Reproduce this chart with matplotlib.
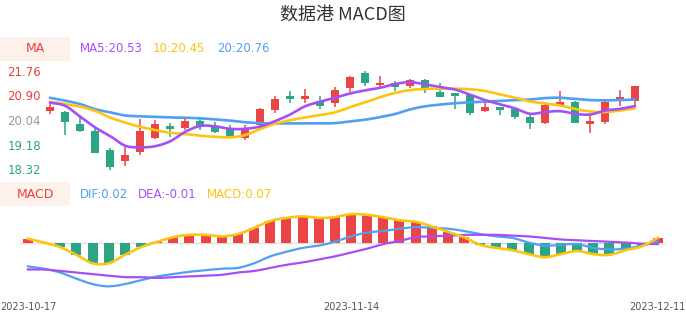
import numpy as np
import matplotlib
matplotlib.use("Agg")
import matplotlib.pyplot as plt
from matplotlib.patches import Rectangle

# Figure size in pixels
W, H = 686, 320

# Trading days shown
dates = ["2023-10-17", "2023-11-14", "2023-12-11"]
date_idx = [0, 20, 39]

# Daily candles
opens = [20.37, 20.33, 19.89, 19.65, 18.99, 18.60, 18.91, 19.42, 19.83, 19.77,
         20.02, 19.84, 19.71, 19.40, 19.86, 20.39, 20.87, 20.78, 20.71, 20.63,
         21.16, 21.68, 21.26, 21.33, 21.24, 21.44, 21.02, 20.98, 20.92, 20.37,
         20.51, 20.43, 20.16, 19.92, 20.57, 20.68, 19.89, 19.97, 20.77, 20.72]
highs = [20.65, 20.37, 20.22, 19.84, 19.05, 19.10, 20.06, 20.04, 19.92, 20.10,
         20.10, 19.98, 19.86, 19.86, 20.45, 20.88, 21.07, 21.13, 20.88, 21.19,
         21.58, 21.76, 21.58, 21.41, 21.48, 21.48, 21.33, 20.98, 20.92, 20.68,
         20.51, 20.43, 20.22, 20.68, 21.06, 20.72, 20.27, 20.78, 21.09, 21.23]
lows = [20.24, 19.51, 19.63, 18.87, 18.29, 18.43, 18.81, 19.38, 19.45, 19.69,
        19.69, 19.59, 19.43, 19.34, 19.84, 20.28, 20.63, 20.63, 20.43, 20.51,
        21.03, 21.23, 21.19, 21.06, 21.16, 21.00, 20.84, 20.43, 20.22, 20.31,
        20.22, 20.08, 19.72, 19.89, 20.57, 19.92, 19.60, 19.90, 20.54, 20.53]
closes = [20.51, 19.98, 19.66, 18.89, 18.38, 18.81, 19.65, 19.89, 19.73, 20.02,
          19.84, 19.63, 19.45, 19.71, 20.43, 20.78, 20.79, 20.88, 20.54, 21.09,
          21.55, 21.33, 21.33, 21.21, 21.44, 21.15, 20.86, 20.89, 20.30, 20.51,
          20.39, 20.16, 19.95, 20.57, 20.68, 19.95, 20.00, 20.66, 20.86, 21.23]

# Moving averages
ma5 = [20.65, 20.54, 20.16, 19.78, 19.48, 19.14, 19.08, 19.12, 19.29, 19.62,
       19.83, 19.82, 19.73, 19.73, 19.81, 20.00, 20.23, 20.52, 20.68, 20.82,
       20.97, 21.08, 21.17, 21.30, 21.37, 21.29, 21.20, 21.11, 20.93, 20.74,
       20.59, 20.45, 20.26, 20.32, 20.35, 20.26, 20.23, 20.37, 20.43, 20.53]
ma10 = [20.68, 20.60, 20.51, 20.36, 20.13, 19.95, 19.80, 19.69, 19.59, 19.55,
        19.49, 19.45, 19.43, 19.51, 19.72, 19.91, 20.03, 20.13, 20.21, 20.31,
        20.49, 20.66, 20.84, 20.99, 21.09, 21.13, 21.14, 21.14, 21.12, 21.06,
        20.94, 20.82, 20.69, 20.62, 20.55, 20.43, 20.34, 20.32, 20.37, 20.45]
ma20 = [20.82, 20.72, 20.60, 20.42, 20.31, 20.20, 20.17, 20.15, 20.13, 20.12,
        20.10, 20.06, 20.02, 19.96, 19.93, 19.92, 19.92, 19.92, 19.92, 19.93,
        19.99, 20.05, 20.14, 20.25, 20.41, 20.52, 20.58, 20.63, 20.66, 20.69,
        20.71, 20.74, 20.76, 20.81, 20.82, 20.78, 20.74, 20.73, 20.74, 20.76]

# MACD
dif = [-0.30, -0.33, -0.38, -0.46, -0.53, -0.56, -0.53, -0.48, -0.43, -0.40,
       -0.37, -0.35, -0.33, -0.32, -0.26, -0.17, -0.11, -0.06, -0.03, 0.02,
       0.09, 0.14, 0.16, 0.19, 0.21, 0.20, 0.19, 0.16, 0.12, 0.09,
       0.07, 0.01, -0.03, -0.02, -0.01, -0.06, -0.08, -0.07, -0.03, 0.02]
dea = [-0.34, -0.34, -0.36, -0.38, -0.40, -0.42, -0.44, -0.44, -0.45, -0.44,
       -0.43, -0.42, -0.41, -0.38, -0.36, -0.32, -0.28, -0.25, -0.21, -0.17,
       -0.12, -0.07, -0.01, 0.03, 0.08, 0.09, 0.10, 0.11, 0.11, 0.11,
       0.10, 0.09, 0.07, 0.05, 0.04, 0.03, 0.02, 0.01, -0.005, -0.01]
hist = [0.06, 0.01, -0.05, -0.15, -0.26, -0.26, -0.15, -0.05, 0.02, 0.08,
        0.11, 0.11, 0.09, 0.12, 0.20, 0.29, 0.33, 0.35, 0.33, 0.34,
        0.38, 0.37, 0.34, 0.30, 0.28, 0.22, 0.15, 0.08, -0.02, -0.06,
        -0.09, -0.14, -0.18, -0.14, -0.10, -0.14, -0.15, -0.09, -0.04, 0.07]

price_ticks = [18.32, 19.18, 20.04, 20.90, 21.76]

RED = "#eb4444"
GREEN = "#2ba585"
PURPLE = "#a64ff5"
YELLOW = "#fbc512"
BLUE = "#4f9ff2"
GREY = "#999999"


def fx(px):
    return px / W


def fy(py):
    return 1 - py / H


def smooth(y, n=8):
    # catmull-rom curve through the points, only for drawing
    y = np.asarray(y, float)
    x = np.arange(len(y), dtype=float)
    p = np.concatenate([[2 * y[0] - y[1]], y, [2 * y[-1] - y[-2]]])
    xs, ys = [], []
    t = np.linspace(0, 1, n, endpoint=False)
    for i in range(len(y) - 1):
        p0, p1, p2, p3 = p[i], p[i + 1], p[i + 2], p[i + 3]
        seg = 0.5 * ((2 * p1) + (-p0 + p2) * t + (2 * p0 - 5 * p1 + 4 * p2 - p3) * t ** 2
                     + (-p0 + 3 * p1 - 3 * p2 + p3) * t ** 3)
        xs.extend(x[i] + t)
        ys.extend(seg)
    xs.append(x[-1])
    ys.append(y[-1])
    return np.array(xs), np.array(ys)


plt.rcParams["font.family"] = ["DejaVu Sans", "Noto Sans CJK SC"]

fig = plt.figure(figsize=(W / 100, H / 100), dpi=100)
fig.patch.set_facecolor("white")

# title
fig.text(0.5, fy(15), "数据港 MACD图", ha="center", va="center", fontsize=13,
         color="#333333", family=["Noto Sans CJK SC", "DejaVu Sans"])

# ---- price panel ----
ax = fig.add_axes([fx(42.5), fy(180), 600 / W, 120 / H])
n = len(closes)
x = np.arange(n)
for i in range(n):
    up = closes[i] >= opens[i]
    c = RED if up else GREEN
    ax.vlines(i, lows[i], highs[i], color=c, lw=1.1, zorder=2)
    lo = min(opens[i], closes[i])
    h = max(abs(closes[i] - opens[i]), 0.04)
    ax.bar(i, h, bottom=lo, width=0.52, color=c, zorder=3, linewidth=0)

for vals, col in [(ma20, BLUE), (ma10, YELLOW), (ma5, PURPLE)]:
    sx, sy = smooth(vals)
    ax.plot(sx, sy, color=col, lw=1.9, zorder=4, solid_capstyle="round")

ax.set_xlim(-0.5, n - 0.5)
ax.set_ylim(17.934, 22.146)
ax.set_yticks(price_ticks)
ax.set_yticklabels([f"{v:.2f}" for v in price_ticks], fontsize=8.5)
for lab, v in zip(ax.get_yticklabels(), price_ticks):
    if v > 20.05:
        lab.set_color("#e8413f")
    elif v < 20.0:
        lab.set_color(GREEN)
    else:
        lab.set_color(GREY)
ax.tick_params(axis="y", length=0, pad=1)
ax.set_xticks([])
for s in ax.spines.values():
    s.set_visible(False)

# ---- MACD panel ----
ax2 = fig.add_axes([fx(19.9), fy(295), 646 / W, 90 / H])
bar_cols = [RED if v >= 0 else GREEN for v in hist]
ax2.axhline(0, color="#eadada", lw=1, zorder=1)
ax2.bar(x, hist, width=0.62, color=bar_cols, zorder=2, linewidth=0)
sx, sy = smooth(dif)
ax2.plot(sx, sy, color=BLUE, lw=1.6, zorder=3)
sx, sy = smooth(dea)
ax2.plot(sx, sy, color=PURPLE, lw=1.6, zorder=3)
sx, sy = smooth(hist)
ax2.plot(sx, sy, color=YELLOW, lw=1.9, zorder=4)
ax2.set_xlim(-0.5, n - 0.5)
ax2.set_ylim(-0.672, 0.498)
ax2.set_yticks([])
ax2.set_xticks(date_idx)
ax2.set_xticklabels(dates, fontsize=7, color="#555555")
ax2.tick_params(axis="x", length=0, pad=5)
for s in ax2.spines.values():
    s.set_visible(False)

# ---- legend boxes ----
for y0, label in [(37, "MA"), (182, "MACD")]:
    fig.patches.append(Rectangle((fx(0), fy(y0 + 24)), 70 / W, 24 / H,
                                 transform=fig.transFigure, facecolor="#fdf1ec",
                                 edgecolor="none", zorder=0))
    fig.text(fx(35), fy(y0 + 12), label, ha="center", va="center",
             fontsize=9, color="#e8413f")

fig.text(fx(80), fy(49), f"MA5:{ma5[-1]:.2f}", ha="left", va="center", fontsize=8.5, color=PURPLE)
fig.text(fx(153), fy(49), f"10:{ma10[-1]:.2f}", ha="left", va="center", fontsize=8.5, color=YELLOW)
fig.text(fx(217), fy(49), f"20:{ma20[-1]:.2f}", ha="left", va="center", fontsize=8.5, color=BLUE)

fig.text(fx(80), fy(194), f"DIF:{dif[-1]:.2f}", ha="left", va="center", fontsize=8.5, color=BLUE)
fig.text(fx(138), fy(194), f"DEA:{dea[-1]:.2f}", ha="left", va="center", fontsize=8.5, color=PURPLE)
fig.text(fx(207), fy(194), f"MACD:{hist[-1]:.2f}", ha="left", va="center", fontsize=8.5, color=YELLOW)

fig.savefig("out.png", dpi=100)
